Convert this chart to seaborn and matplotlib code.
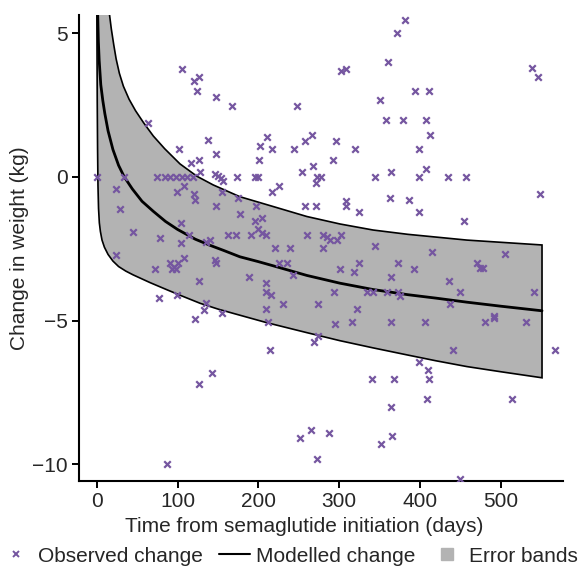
import numpy as np
import pandas as pd
import matplotlib
matplotlib.use("Agg")
import matplotlib.pyplot as plt
import seaborn as sns
from matplotlib.lines import Line2D

# observed weight change (days, kg)
obs_days = [0.5, 34, 75, 84, 91, 98, 105, 112, 119, 174, 196, 200, 344, 399, 435, 457, 273, 277,
            105, 120, 127, 124, 148, 167, 64, 138, 102, 148, 117, 127, 128, 146, 150, 154, 156,
            382, 371, 361, 302, 308, 539, 546, 351, 394, 411, 248, 358, 379, 408, 412, 211, 202,
            217, 244, 258, 266, 296, 320, 399, 201, 292, 267, 254, 364, 408, 271,
            24, 99, 108, 120, 122, 155, 175, 217, 226, 363, 548, 387, 29, 148, 177, 197, 258, 271,
            309, 309, 325, 399, 454, 196, 204, 45, 78, 104, 114, 104, 135, 140, 163, 172,
            191, 200, 205, 210, 260, 280, 285, 289, 297, 302, 221, 239, 280, 344, 415, 505,
            24, 72, 91, 93, 96, 98, 101, 108, 146, 148, 225, 236, 243, 188, 210, 209, 216,
            210, 212, 231, 274, 293, 301, 318, 324, 295, 316, 322, 274, 269, 335, 342,
            359, 373, 375, 364, 373, 364, 341, 368, 364, 365, 352, 265, 252, 287, 272,
            399, 410, 411, 409, 514, 567, 441, 450, 491, 491, 481, 531, 541, 436, 437, 450,
            406, 392, 470, 474, 478, 77, 99, 127, 121, 133, 135, 155, 214, 143, 127, 87]
obs_change = [0.0, 0.0, 0.0, 0.0, 0.0, 0.0, 0.0, 0.0, 0.0, 0.0, 0.0, 0.0, 0.0, 0.0, 0.0, 0.0, 0.0, 0.0,
              3.76, 3.35, 3.47, 2.98, 2.77, 2.47, 1.87, 1.29, 0.97, 0.78, 0.48, 0.57, 0.16, 0.09, 0.02, -0.05, -0.13,
              5.47, 5.0, 3.98, 3.67, 3.76, 3.78, 3.46, 2.68, 2.97, 2.97, 2.47, 1.98, 1.98, 1.98, 1.46, 1.38, 1.08,
              0.97, 0.97, 1.26, 1.46, 1.26, 0.97, 0.96, 0.57, 0.57, 0.37, 0.16, 0.16, 0.27, -0.22,
              -0.43, -0.51, -0.31, -0.60, -0.82, -0.51, -0.72, -0.51, -0.31, -0.72, -0.60, -0.80, -1.11, -1.01, -1.31, -1.03, -1.01, -1.01,
              -0.84, -1.01, -1.21, -1.21, -1.52, -1.52, -1.44, -1.92, -2.12, -1.61, -2.02, -2.31, -2.27, -2.19, -2.02, -2.02,
              -2.02, -1.82, -1.94, -2.02, -2.02, -2.02, -2.08, -2.19, -2.19, -2.02, -2.48, -2.48, -2.48, -2.40, -2.60, -2.70,
              -2.72, -3.19, -3.0, -3.2, -3.12, -3.2, -3.0, -2.82, -2.89, -3.0, -3.0, -3.0, -3.41, -3.48, -3.70, -3.99, -4.12,
              -4.61, -5.04, -4.43, -4.43, -4.02, -3.2, -3.3, -3.0, -5.13, -5.04, -4.61, -5.53, -5.73, -3.99, -3.99,
              -3.99, -3.99, -4.13, -3.5, -3.0, -5.04, -7.03, -7.03, -8.02, -9.02, -9.31, -8.81, -9.1, -8.92, -9.8,
              -6.43, -6.72, -7.03, -7.73, -7.73, -6.02, -6.02, -10.52, -4.84, -4.92, -5.04, -5.04, -4.01, -3.61, -4.42, -4.02,
              -5.04, -3.2, -3.0, -3.18, -3.18, -4.2, -4.11, -3.61, -4.94, -4.63, -4.40, -4.72, -6.02, -6.81, -7.22, -9.99]

# modelled change and error band edges
model_days = [0.8, 1.2, 2, 3, 5, 7.5, 10, 14, 20, 27, 34, 44, 56, 70, 85, 100, 122, 140, 157, 177,
              200, 219, 260, 301, 342, 385, 420, 458, 500, 551]
model_change = [7.0, 5.6, 4.7, 4.05, 3.2, 2.65, 2.2, 1.6, 0.95, 0.4, 0.0, -0.42, -0.85, -1.2, -1.55,
                -1.83, -2.17, -2.38, -2.56, -2.78, -2.95, -3.1, -3.43, -3.7, -3.92, -4.1, -4.22,
                -4.36, -4.5, -4.66]
upper_days = [12, 15.8, 18, 21, 24, 28, 33, 40, 48, 58, 70, 84, 103, 124, 144, 177, 218, 260, 301,
              342, 385, 458, 551]
upper_change = [7.0, 5.64, 5.15, 4.6, 4.1, 3.6, 3.15, 2.7, 2.3, 1.88, 1.42, 0.98, 0.45, 0.02, -0.28,
                -0.69, -1.03, -1.38, -1.64, -1.85, -2.0, -2.2, -2.37]
lower_days = [0.1, 0.3, 0.6, 1.0, 1.5, 2.2, 3.2, 4.5, 6.5, 9.5, 14, 20, 27, 36, 45, 66, 87, 105, 128,
              150, 169, 210, 260, 301, 342, 385, 420, 458, 500, 551]
lower_change = [7.0, 4.6, 2.6, 1.0, -0.3, -1.1, -1.6, -1.9, -2.2, -2.45, -2.7, -2.93, -3.12, -3.28,
                -3.41, -3.68, -3.93, -4.14, -4.40, -4.6, -4.75, -5.07, -5.42, -5.7, -5.95, -6.2,
                -6.4, -6.6, -6.78, -6.99]

obs = pd.DataFrame({"days": obs_days, "change": obs_change})
model = pd.DataFrame({"days": model_days, "change": model_change})

purple = "#7556a0"
band_grey = "#b3b3b3"

sns.set_style("ticks")
plt.rcParams["font.family"] = ["Liberation Sans", "DejaVu Sans"]
plt.rcParams["font.size"] = 15

fig = plt.figure(figsize=(5.82, 5.68), dpi=100)
ax = fig.add_axes([0.1357, 0.1532, 0.8317, 0.8204])

# error band as one closed polygon
band_x = list(upper_days) + list(lower_days[::-1])
band_y = list(upper_change) + list(lower_change[::-1])
ax.fill(band_x, band_y, facecolor=band_grey, edgecolor="black", linewidth=1.2, zorder=1)

sns.lineplot(data=model, x="days", y="change", color="black", linewidth=2.0,
             estimator=None, sort=False, ax=ax, zorder=2)
sns.scatterplot(data=obs, x="days", y="change", marker="x", color=purple, s=22,
                linewidth=1.6, ax=ax, zorder=3)

ax.set_xlim(-22, 577)
ax.set_ylim(-10.58, 5.63)
ax.set_xticks([0, 100, 200, 300, 400, 500])
ax.set_yticks([5, 0, -5, -10])
ax.set_yticklabels(["5", "0", "\u22125", "\u221210"])
ax.set_xlabel("Time from semaglutide initiation (days)", fontsize=15)
ax.set_ylabel("Change in weight (kg)", fontsize=15, labelpad=2)
ax.xaxis.set_label_coords(0.466, -0.078)
ax.tick_params(axis="both", labelsize=15, width=1.4, length=5, color="black", pad=3)
for side in ["left", "bottom"]:
    ax.spines[side].set_linewidth(1.5)
    ax.spines[side].set_color("black")
sns.despine(ax=ax)

handles = [
    Line2D([], [], marker="x", color=purple, linestyle="none", markersize=5, markeredgewidth=1.4),
    Line2D([], [], color="black", linewidth=1.5),
    Line2D([], [], marker="s", color=band_grey, linestyle="none", markersize=9),
]
labels = ["Observed change", "Modelled change", "Error bands"]
fig.legend(handles, labels, loc="center", bbox_to_anchor=(0.497, 0.021), ncol=3,
           frameon=False, fontsize=15, handlelength=1.5, handletextpad=0.3,
           columnspacing=0.75, borderpad=0.0)

fig.savefig("out.png", dpi=100)
